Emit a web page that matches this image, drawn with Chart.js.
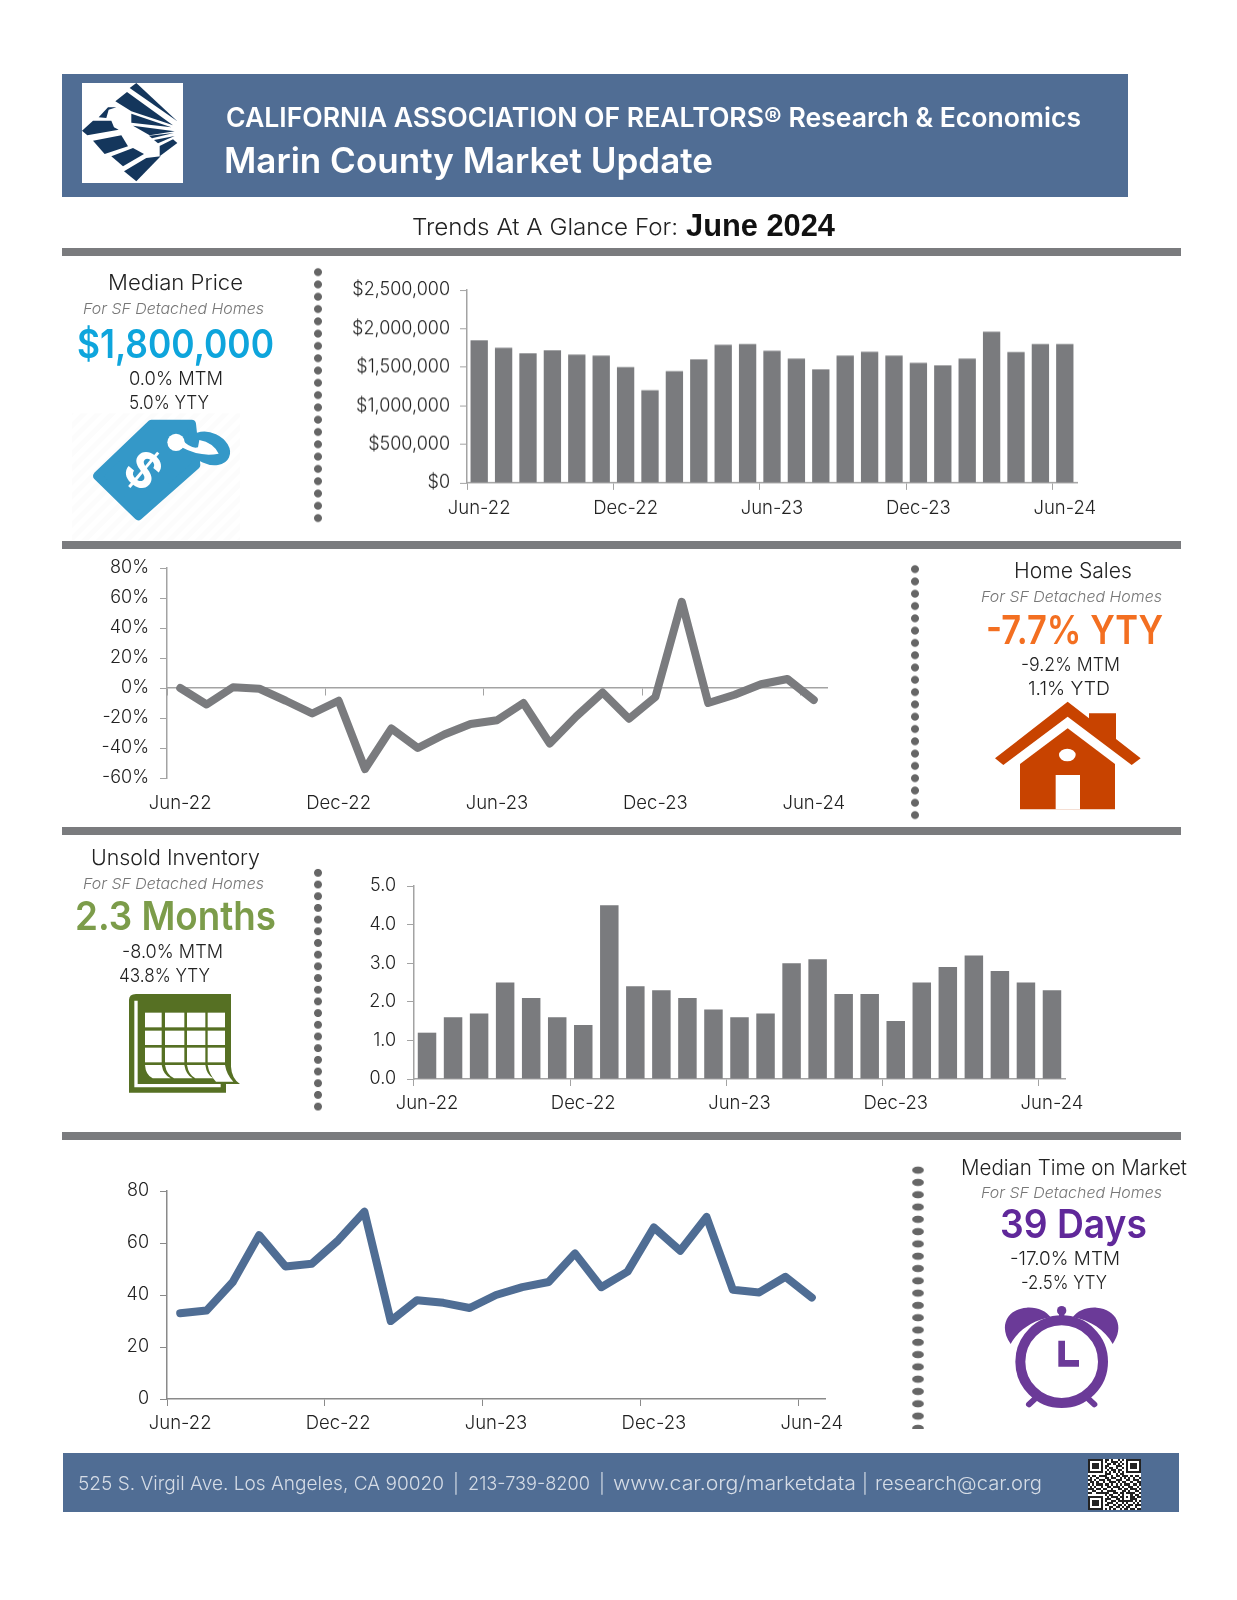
<!DOCTYPE html>
<html>
<head>
<meta charset="utf-8">
<title>Marin County Market Update</title>
<script src="https://cdn.jsdelivr.net/npm/chart.js@4"></script>
<style>
  html, body { margin: 0; background: #fff; }
  #page { position: relative; width: 1237px; height: 1600px; overflow: hidden; font-family: Inter, sans-serif; }
  #page > * { position: absolute; }
  .band { background: #506d94; }
  .rule { left: 62px; width: 1119px; height: 8px; background: #7a7b7e; }
  .dots { width: 12px; background: radial-gradient(circle at center, #666 3.5px, transparent 4.4px) center top / 12px 12.3px repeat-y; }
  svg text { font-family: Inter, sans-serif; font-weight: 300; fill: #222; }
  svg text.sub { font-style: italic; fill: #777; font-size: 15px; }
  svg text.head { font-size: 21px; }
  svg text.stat { font-size: 19px; }
  svg text.big { font-weight: 600; font-size: 40px; }
  svg text.white { fill: #fff; font-weight: 600; }
  svg text.foot { fill: #d5dce6; font-size: 19px; }
</style>
</head>
<body>
<div id="page">
  <div class="band" style="left:62px;top:74px;width:1066px;height:123px"></div>
  <div class="band" style="left:63px;top:1453px;width:1116px;height:59px"></div>
  <div class="rule" style="top:248px"></div>
  <div class="rule" style="top:541px"></div>
  <div class="rule" style="top:827px"></div>
  <div class="rule" style="top:1132px"></div>
  <div class="dots" style="left:312px;top:266px;height:258px"></div>
  <div class="dots" style="left:909px;top:563px;height:258px"></div>
  <div class="dots" style="left:312px;top:867px;height:245px;background-size:12px 11.7px"></div>
  <div class="dots" style="left:912px;top:1164px;height:265px;background-image:radial-gradient(ellipse 6.5px 4px at center,#666 80%,transparent 100%)"></div>

  <canvas id="priceChart"></canvas>
  <canvas id="salesChart"></canvas>
  <canvas id="inventoryChart"></canvas>
  <canvas id="daysChart"></canvas>

  <!-- logo -->
  <svg style="left:78px;top:78px" width="110" height="110" viewBox="0 0 330 330">
    <rect x="12" y="15" width="303" height="300" fill="#fff"/>
    <g fill="#14365c">
      <polygon points="175,15 298,130 155,30"/>
      <polygon points="112,70 147,42 285,142 250,130 160,100"/>
      <polygon points="160,107 280,148 160,134"/>
      <polygon points="165,143 290,160 215,172"/>
      <polygon points="213,173 287,165 222,181"/>
      <polygon points="228,186 290,174 240,196"/>
      <polygon points="245,204 285,184 298,195 245,235"/>
      <polygon points="62,118 90,88 115,88 92,95 85,120"/>
      <polygon points="12,158 45,128 100,128 108,148 122,155 28,172"/>
      <polygon points="45,188 130,172 150,205 80,228"/>
      <polygon points="100,235 165,210 198,228 135,265"/>
      <polygon points="138,280 205,240 248,235 175,310"/>
    </g>
  </svg>

  <!-- price tag -->
  <svg style="left:70px;top:410px" width="175" height="130" viewBox="0 0 525 390">
    <defs>
      <pattern id="hatch" width="30" height="30" patternUnits="userSpaceOnUse" patternTransform="rotate(-45)">
        <rect width="30" height="15" fill="#fcfcfc"/>
      </pattern>
    </defs>
    <rect x="6" y="10" width="504" height="380" fill="url(#hatch)"/>
    <polygon points="245,42 365,42 378,165 205,318 82,198" fill="#3498c8" stroke="#3498c8" stroke-width="26" stroke-linejoin="round"/>
    <ellipse cx="418" cy="115" rx="56" ry="38" transform="rotate(25 418 115)" fill="#3498c8" stroke="#3498c8" stroke-width="18"/>
    <path d="M335 88 Q362 118 384 112 L388 90 Q430 98 446 131 Q390 142 335 112Z" fill="#fff"/>
    <circle cx="318" cy="97" r="26" fill="#fff"/>
    <text transform="translate(220 180) rotate(40)" text-anchor="middle" y="52" style="font-weight:700;font-size:146px;fill:#fff">$</text>
  </svg>

  <!-- house -->
  <svg style="left:880px;top:540px" width="300" height="280" viewBox="0 0 900 840">
    <polygon fill="#c84300" points="345,655 563,485 627,535 627,520 708,520 708,597 782,655 755,675 563,530 370,675"/>
    <polygon fill="#c84300" points="563,565 705,672 705,808 420,808 420,672"/>
    <rect x="527" y="705" width="73" height="103" fill="#fff"/>
    <ellipse cx="562" cy="645" rx="25" ry="19" fill="#fff"/>
  </svg>

  <!-- calendar -->
  <svg style="left:50px;top:820px" width="330" height="290" viewBox="0 0 990 870">
    <path fill="#567023" d="M237 540 Q237 522 258 522 H543 V740 Q545 775 570 792 H528 V818 H237 Z"/>
    <path fill="none" stroke="#fff" stroke-width="10" d="M258 542 V797 H512"/>
    <g fill="#fff">
      <rect x="285" y="578" width="50" height="44"/><rect x="345" y="578" width="58" height="44"/><rect x="411" y="578" width="55" height="44"/><rect x="473" y="578" width="52" height="44"/>
      <rect x="285" y="632" width="50" height="43"/><rect x="345" y="632" width="58" height="43"/><rect x="411" y="632" width="55" height="43"/><rect x="473" y="632" width="52" height="43"/>
      <rect x="285" y="683" width="50" height="44"/><rect x="345" y="683" width="58" height="44"/><rect x="411" y="683" width="55" height="44"/><rect x="473" y="683" width="52" height="44"/>
      <path d="M285 735 H335 Q340 765 362 775 H308 Q287 765 285 735Z"/>
      <path d="M345 735 H403 Q408 765 428 775 H372 Q350 765 345 735Z"/>
      <path d="M411 735 H466 Q470 765 490 775 H436 Q416 765 411 735Z"/>
      <path d="M473 735 H525 Q530 765 550 785 H498 Q478 765 473 735Z"/>
    </g>
  </svg>

  <!-- clock -->
  <svg style="left:880px;top:1120px" width="300" height="290" viewBox="0 0 900 870">
    <g fill="#6b3a98" stroke="none">
      <path d="M392 672 C355 620 380 568 440 563 C472 561 498 573 512 592 C460 600 415 630 392 672Z"/>
      <path d="M698 672 C735 620 710 568 650 563 C618 561 592 573 578 592 C630 600 675 630 698 672Z"/>
      <rect x="537" y="575" width="16" height="35"/>
      <circle cx="545" cy="572" r="14"/>
    </g>
    <circle cx="545" cy="725" r="124" fill="none" stroke="#6b3a98" stroke-width="30"/>
    <path d="M545 662 V730 H597" fill="none" stroke="#6b3a98" stroke-width="20"/>
    <path d="M472 830 L447 853 M618 830 L643 853" fill="none" stroke="#6b3a98" stroke-width="18" stroke-linecap="round"/>
  </svg>

  <svg id="qr" style="left:1088px;top:1459px" width="53" height="51" viewBox="0 0 25 25" preserveAspectRatio="none" shape-rendering="crispEdges"></svg>

  <!-- all page text -->
  <svg style="left:0;top:0" width="1237" height="1600">
    <text class="white" x="226" y="127" font-size="27" textLength="855" lengthAdjust="spacingAndGlyphs">CALIFORNIA ASSOCIATION OF REALTORS® Research &amp; Economics</text>
    <text class="white" x="224" y="173" font-size="35" textLength="489" lengthAdjust="spacingAndGlyphs">Marin County Market Update</text>
    <text x="412" y="235" font-size="23" textLength="266" lengthAdjust="spacingAndGlyphs">Trends At A Glance For:</text>
    <text x="686" y="236" style="font-family:'Liberation Sans';font-weight:700;font-size:31px;fill:#111" textLength="149" lengthAdjust="spacingAndGlyphs">June 2024</text>

    <text class="head" x="108" y="290" textLength="135" lengthAdjust="spacingAndGlyphs">Median Price</text>
    <text class="sub" x="83" y="314" textLength="181" lengthAdjust="spacingAndGlyphs">For SF Detached Homes</text>
    <text class="big" x="77" y="358" style="fill:#0ea5dc" textLength="197" lengthAdjust="spacingAndGlyphs">$1,800,000</text>
    <text class="stat" x="129" y="385" textLength="94" lengthAdjust="spacingAndGlyphs">0.0% MTM</text>
    <text class="stat" x="129" y="409" textLength="80" lengthAdjust="spacingAndGlyphs">5.0% YTY</text>

    <text class="head" x="1014" y="578" textLength="118" lengthAdjust="spacingAndGlyphs">Home Sales</text>
    <text class="sub" x="981" y="602" textLength="181" lengthAdjust="spacingAndGlyphs">For SF Detached Homes</text>
    <text class="big" x="986" y="644" style="fill:#f36f21" textLength="177" lengthAdjust="spacingAndGlyphs">-7.7% YTY</text>
    <text class="stat" x="1021" y="671" textLength="99" lengthAdjust="spacingAndGlyphs">-9.2% MTM</text>
    <text class="stat" x="1028" y="695" textLength="82" lengthAdjust="spacingAndGlyphs">1.1% YTD</text>

    <text class="head" x="91" y="865" textLength="169" lengthAdjust="spacingAndGlyphs">Unsold Inventory</text>
    <text class="sub" x="83" y="889" textLength="181" lengthAdjust="spacingAndGlyphs">For SF Detached Homes</text>
    <text class="big" x="75" y="930" style="fill:#7c9c4a" textLength="201" lengthAdjust="spacingAndGlyphs">2.3 Months</text>
    <text class="stat" x="122" y="958" textLength="101" lengthAdjust="spacingAndGlyphs">-8.0% MTM</text>
    <text class="stat" x="119" y="982" textLength="91" lengthAdjust="spacingAndGlyphs">43.8% YTY</text>

    <text class="head" x="961" y="1175" textLength="226" lengthAdjust="spacingAndGlyphs">Median Time on Market</text>
    <text class="sub" x="981" y="1198" textLength="181" lengthAdjust="spacingAndGlyphs">For SF Detached Homes</text>
    <text class="big" x="1000" y="1238" style="fill:#60289a" textLength="147" lengthAdjust="spacingAndGlyphs">39 Days</text>
    <text class="stat" x="1010" y="1265" textLength="110" lengthAdjust="spacingAndGlyphs">-17.0% MTM</text>
    <text class="stat" x="1021" y="1289" textLength="86" lengthAdjust="spacingAndGlyphs">-2.5% YTY</text>

    <text class="foot" x="78" y="1490" textLength="366" lengthAdjust="spacingAndGlyphs">525 S. Virgil Ave. Los Angeles, CA 90020</text>
    <text class="foot" x="453" y="1490">|</text>
    <text class="foot" x="468" y="1490" textLength="122" lengthAdjust="spacingAndGlyphs">213-739-8200</text>
    <text class="foot" x="599" y="1490">|</text>
    <text class="foot" x="613" y="1490" textLength="243" lengthAdjust="spacingAndGlyphs">www.car.org/marketdata</text>
    <text class="foot" x="862" y="1490">|</text>
    <text class="foot" x="875" y="1490" textLength="167" lengthAdjust="spacingAndGlyphs">research@car.org</text>
  </svg>
</div>

<script>
const months = ["Jun-22","Jul-22","Aug-22","Sep-22","Oct-22","Nov-22","Dec-22","Jan-23","Feb-23","Mar-23","Apr-23","May-23","Jun-23","Jul-23","Aug-23","Sep-23","Oct-23","Nov-23","Dec-23","Jan-24","Feb-24","Mar-24","Apr-24","May-24","Jun-24"];
const medianPrice = [1850000,1750000,1680000,1720000,1665000,1650000,1500000,1200000,1450000,1600000,1790000,1800000,1712000,1610000,1470000,1650000,1700000,1650000,1555000,1525000,1610000,1960000,1695000,1800000,1800000];
const salesYty = [0,-11,0.5,-0.5,-8.5,-17,-8.5,-54,-27,-40,-31,-24,-21.5,-10,-37,-19,-3,-20.5,-6,57.5,-10,-4.5,2.5,6,-8];
const inventory = [1.2,1.6,1.7,2.5,2.1,1.6,1.4,4.5,2.4,2.3,2.1,1.8,1.6,1.7,3.0,3.1,2.2,2.2,1.5,2.5,2.9,3.2,2.8,2.5,2.3];
const daysOnMarket = [33,34,45,63,51,52,61,72,30,38,37,35,40,43,45,56,43,49,66,57,70,42,41,47,39];

const GREY = "#7a7b7e";
const BLUE = "#4f6d94";
const X_FONT = { family: "Inter", size: 18.5, weight: "300" };
const Y_FONT = { family: "Inter", size: 18, weight: "300" };
const PAD_TOP = 14;
const PAD_RIGHT = 34;

// every 6th month gets a tick and a label
function sixMonthLabel(value, i) {
  return i % 6 === 0 ? months[i] : "";
}

function fixedSize(prop, size) {
  return scale => {
    scale[prop] = size;
    scale.paddingLeft = scale.paddingRight = scale.paddingTop = scale.paddingBottom = 0;
  };
}

function xScale(axisColor, height, showLabels, labelPad = 7) {
  return {
    type: "category",
    offset: true,
    border: { color: axisColor, width: 1.5 },
    grid: {
      offset: true,
      drawOnChartArea: false,
      tickLength: 7,
      tickColor: ctx => (ctx.index % 6 === 0 ? axisColor : "transparent"),
    },
    ticks: {
      autoSkip: false, maxRotation: 0, minRotation: 0, padding: labelPad,
      color: "#222", font: X_FONT,
      callback: showLabels ? sixMonthLabel : () => "",
    },
    afterFit: fixedSize("height", height),
  };
}

function yScale(axisColor, width, min, max, step, fmt, labelPad = 11) {
  return {
    min, max,
    border: { color: axisColor, width: 1.5 },
    grid: { drawOnChartArea: false, tickLength: 7, tickColor: axisColor },
    ticks: { stepSize: step, padding: labelPad, color: "#222", font: Y_FONT, callback: fmt },
    afterFit: fixedSize("width", width),
  };
}

// box is the plot area on the page; the canvas is sized around it
function placeChart(id, box, yWidth, xHeight, config) {
  const canvas = document.getElementById(id);
  const w = box.right - box.left + yWidth + PAD_RIGHT;
  const h = box.bottom - box.top + PAD_TOP + xHeight;
  canvas.style.left = (box.left - yWidth) + "px";
  canvas.style.top = (box.top - PAD_TOP) + "px";
  canvas.style.width = w + "px";
  canvas.style.height = h + "px";
  canvas.width = w;
  canvas.height = h;
  config.options = Object.assign({
    responsive: false,
    animation: false,
    layout: { padding: { top: PAD_TOP, right: PAD_RIGHT, left: 0, bottom: 0 } },
    plugins: { legend: { display: false }, tooltip: { enabled: false } },
  }, config.options);
  return new Chart(canvas, config);
}

function barConfig(label, data, xs, ys) {
  return {
    type: "bar",
    data: {
      labels: months,
      datasets: [{ label, data, backgroundColor: GREY, barPercentage: 0.71, categoryPercentage: 1 }],
    },
    options: { scales: { x: xs, y: ys } },
  };
}

function lineDataset(label, data, color, xAxisID) {
  return {
    label, data, xAxisID,
    borderColor: color, borderWidth: 8, pointRadius: 0, tension: 0, fill: false,
    borderCapStyle: "round", borderJoinStyle: "round",
  };
}

placeChart("priceChart", { left: 467, right: 1077, top: 290, bottom: 482.5 }, 130, 44,
  barConfig("Median Price", medianPrice,
    xScale("#a3a3a3", 44, true),
    yScale("#a3a3a3", 130, 0, 2500000, 500000, v => "$" + v.toLocaleString("en-US"), 10)));

// sales: the x axis crosses at 0%, its labels stay at the bottom on a second scale
const salesAxis = xScale("#a3a3a3", 40, false);
salesAxis.position = { y: 0 };
const salesLabels = xScale("transparent", 40, true, 14);
salesLabels.position = "bottom";
salesLabels.border = { display: false };
salesLabels.grid = { display: false, offset: true, drawTicks: false };
placeChart("salesChart", { left: 166.5, right: 827, top: 567.7, bottom: 777.7 }, 80, 40, {
  type: "line",
  data: { labels: months, datasets: [lineDataset("Home Sales YTY", salesYty, GREY, "x")] },
  options: {
    scales: {
      x: salesAxis,
      xLabels: salesLabels,
      y: yScale("#a3a3a3", 80, -60, 80, 20, v => v + "%"),
    },
  },
});

placeChart("inventoryChart", { left: 413.5, right: 1065, top: 885.7, bottom: 1079 }, 60, 44,
  barConfig("Unsold Inventory", inventory,
    xScale("#a3a3a3", 44, true, 6),
    yScale("#a3a3a3", 60, 0, 5, 1, v => v.toFixed(1))));

placeChart("daysChart", { left: 166.5, right: 824.5, top: 1190.7, bottom: 1399.3 }, 60, 44, {
  type: "line",
  data: { labels: months, datasets: [lineDataset("Median Time on Market", daysOnMarket, BLUE, "x")] },
  options: {
    scales: {
      x: xScale("#8a8a8a", 44, true, 6),
      y: yScale("#8a8a8a", 60, 0, 80, 20, v => v),
    },
  },
});

// QR decoration in the footer
const qrRows = [
  "1111111011010010101111111","1000001010011101001000001","1011101001101010101011101","1011101011000111001011101",
  "1011101010110100101011101","1000001001011011001000001","1111111010101010101111111","0000000011100101100000000",
  "1011011110010110111010110","0100100011011001010101001","1101011101100111001101110","0110100100111010110010011",
  "1010111011010101011101101","0101001001101110100110010","1110110110010011011011101","0011001001111000110100110",
  "1100111111001101101111001","0000000010110010100010110","1111111001011101101011011","1000001011100110100011100",
  "1011101010011011111110101","1011101001110100101001010","1011101011001011010110111","1000001000110110101100100",
  "1111111010101001011011011",
];
const qr = document.getElementById("qr");
qr.innerHTML = `<rect width="25" height="25" fill="#fff"/>` + qrRows.map((row, y) =>
  [...row].map((c, x) => c === "1" ? `<rect x="${x}" y="${y}" width="1" height="1" fill="#222"/>` : "").join("")
).join("");
</script>
</body>
</html>
